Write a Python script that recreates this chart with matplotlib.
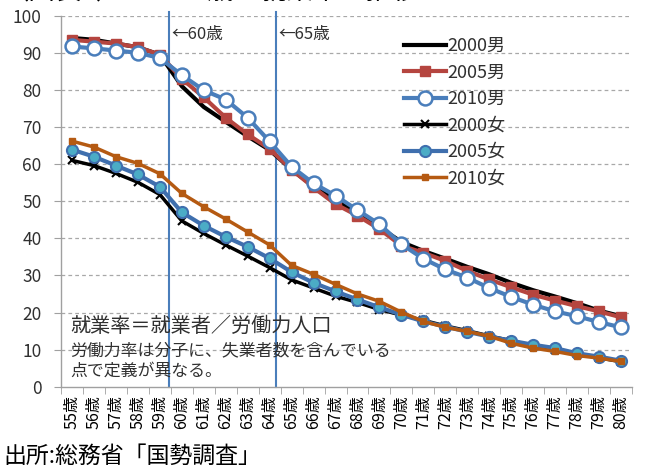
import matplotlib
matplotlib.use("Agg")
import matplotlib.pyplot as plt
import numpy as np

plt.rcParams['font.family'] = ['Noto Sans CJK JP', 'DejaVu Sans']

ages = list(range(55, 81))
age_labels = [f"{a}歳" for a in ages]

m2000 = [94.0, 93.5, 92.5, 91.5, 89.5, 81.0, 75.4, 71.4, 67.5, 63.8, 58.5, 54.0, 50.2, 46.8, 43.0, 39.0,
         36.6, 34.5, 32.3, 30.3, 28.0, 26.0, 24.3, 22.5, 20.5, 19.0]
m2005 = [93.5, 93.0, 92.5, 91.5, 89.5, 83.0, 78.0, 72.5, 68.0, 64.1, 58.5, 53.7, 49.2, 46.1, 42.5, 38.0,
         36.1, 33.9, 31.2, 28.9, 26.8, 24.8, 23.2, 21.7, 20.3, 18.7]
m2010 = [91.7, 91.2, 90.6, 90.0, 88.6, 84.0, 79.9, 77.4, 72.5, 66.1, 59.3, 54.8, 51.5, 47.6, 43.8, 38.4,
         34.5, 31.6, 29.4, 26.6, 24.2, 22.1, 20.3, 19.0, 17.4, 16.0]
f2000 = [61.0, 59.6, 57.5, 55.1, 51.8, 44.7, 41.3, 38.2, 35.2, 32.1, 28.8, 26.6, 24.4, 22.7, 20.8, 19.3,
         17.9, 16.4, 15.1, 13.7, 12.4, 11.0, 10.0, 8.8, 7.8, 6.7]
f2005 = [63.9, 62.0, 59.6, 57.2, 53.9, 47.0, 43.4, 40.4, 37.7, 34.6, 30.9, 28.0, 25.7, 23.5, 21.4, 19.4,
         17.6, 16.2, 14.8, 13.5, 12.4, 11.3, 10.4, 9.0, 8.1, 7.0]
f2010 = [66.2, 64.6, 62.0, 60.2, 57.4, 52.1, 48.5, 45.2, 41.7, 38.2, 32.7, 30.3, 27.6, 25.0, 23.0, 20.1,
         17.6, 16.0, 14.9, 13.6, 11.7, 10.4, 9.5, 8.4, 7.7, 6.8]

series_labels = ["2000男", "2005男", "2010男", "2000女", "2005女", "2010女"]
marker_ages = [59.4, 64.3]
marker_texts = ["←60歳", "←65歳"]
note_lines = ["就業率＝就業者／労働力人口", "労働力率は分子に、失業者数を含んでいる", "点で定義が異なる。"]
title = "（図表1）55～80歳の就業率の推移"
source = "出所:総務省「国勢調査」"

W, H = 645, 468
fig = plt.figure(figsize=(W / 100, H / 100), dpi=100)
ax = fig.add_axes([61 / W, 1 - 386.7 / H, (632 - 61) / W, (386.7 - 15.7) / H])

x = np.arange(len(ages))
blue = "#4A7EBB"
ax.plot(x, m2000, color="black", lw=3, label=series_labels[0], zorder=3)
ax.plot(x, m2005, color="#B5453F", lw=3, marker="s", ms=7, mfc="#B5453F", mec="#B5453F",
        label=series_labels[1], zorder=3)
ax.plot(x, m2010, color=blue, lw=3, marker="o", ms=10, mfc="white", mec=blue, mew=1.8,
        label=series_labels[2], zorder=3)
ax.plot(x, f2000, color="black", lw=2.5, marker="x", ms=6, mew=1.5, mec="black",
        label=series_labels[3], zorder=3)
ax.plot(x, f2005, color="#3F6FAE", lw=3, marker="o", ms=8, mfc="#4BACC6", mec="#3F6FAE", mew=1.5,
        label=series_labels[4], zorder=3)
ax.plot(x, f2010, color="#B55A12", lw=2.5, marker="s", ms=4.5, mfc="#B55A12", mec="#B55A12",
        label=series_labels[5], zorder=3)

ax.set_xlim(-0.5, len(ages) - 0.5)
ax.set_ylim(0, 100)
ax.set_yticks(np.arange(0, 101, 10))
ax.set_xticks(x)
ax.set_xticklabels(age_labels, rotation=90, fontsize=11.5, color="black")
ax.set_xticks(np.arange(-0.5, len(ages), 1), minor=True)
ax.tick_params(axis="x", which="major", length=0, pad=6)
ax.tick_params(axis="x", which="minor", length=5, color="#a0a0a0", direction="out")
ax.tick_params(axis="y", length=5, color="#a0a0a0", labelsize=12.5, labelcolor="#303030", pad=9)

for v in range(10, 101, 10):
    ax.axhline(v, color="#a8a8a8", lw=0.9, ls=(0, (3, 2.5)), zorder=1)

for s in ["top", "right"]:
    ax.spines[s].set_visible(False)
for s in ["left", "bottom"]:
    ax.spines[s].set_color("#a0a0a0")
    ax.spines[s].set_linewidth(1)

for a, txt in zip(marker_ages, marker_texts):
    xv = a - ages[0]
    ax.plot([xv, xv], [0, 101], color=blue, lw=1.5, clip_on=False, zorder=2)
    ax.text(xv + 0.12, 95, txt, fontsize=12, color="#303030", va="center", ha="left")

leg = ax.legend(loc="upper left", bbox_to_anchor=(395 / W, 1 - 28 / H), bbox_transform=fig.transFigure,
                frameon=False, fontsize=13, handlelength=2.3, handletextpad=0.12, labelspacing=0.47,
                borderpad=0)
for t in leg.get_texts():
    t.set_color("#303030")

fig.text(70 / W, 1 - 326 / H, note_lines[0], fontsize=14.5, color="#303030", va="center", ha="left")
fig.text(70 / W, 1 - 350 / H, note_lines[1], fontsize=12.2, color="#303030", va="center", ha="left")
fig.text(70 / W, 1 - 371 / H, note_lines[2], fontsize=12.2, color="#303030", va="center", ha="left")

fig.text(3 / W, 1 - 456 / H, source, fontsize=16.5, color="black", va="center", ha="left")
fig.text(3 / W, 1 + 1 / H, title, fontsize=19, color="black", va="baseline", ha="left")

fig.savefig("out.png", dpi=100)
